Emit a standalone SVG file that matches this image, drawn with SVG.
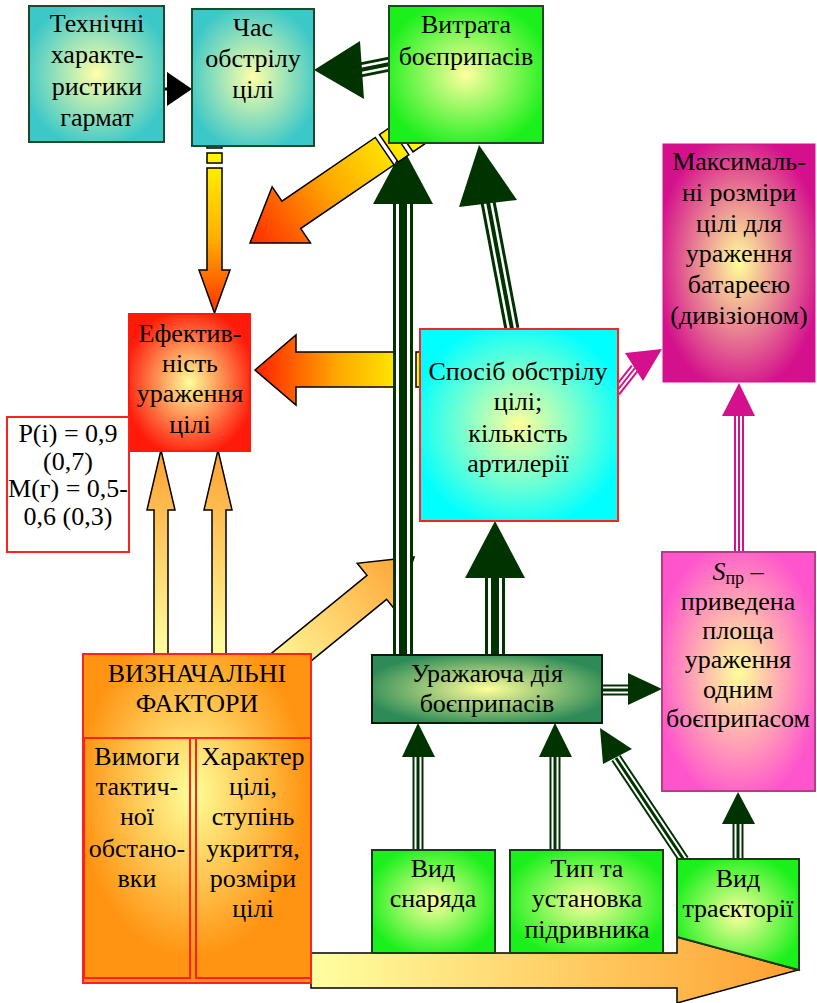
<svg xmlns="http://www.w3.org/2000/svg" width="817" height="1003" viewBox="0 0 817 1003">
<style>
.t{font-family:"Liberation Serif","Times New Roman",serif;font-size:26px;fill:#000;text-anchor:middle}
.gA{fill:none;stroke:#003300;stroke-width:20}.wA{fill:none;stroke:#fff;stroke-width:14}.cA{fill:none;stroke:#003300;stroke-width:8}
.gB{fill:none;stroke:#003300;stroke-width:15}.wB{fill:none;stroke:#fff;stroke-width:9}.cB{fill:none;stroke:#003300;stroke-width:4}
.gC{fill:none;stroke:#003300;stroke-width:11}.wC{fill:none;stroke:#fff;stroke-width:7}.cC{fill:none;stroke:#003300;stroke-width:3}
.mO{fill:none;stroke:#d4108c;stroke-width:10}.mW{fill:none;stroke:#fff;stroke-width:6}.mC{fill:none;stroke:#d4108c;stroke-width:2}
.hd{fill:#003300}.hm{fill:#d4108c}
.fat{stroke:#000;stroke-width:1.5;stroke-linejoin:miter}
</style>
<defs>
<radialGradient id="gTeal" cx="0.5" cy="0.5" r="0.55"><stop offset="0" stop-color="#ffffa8"/><stop offset="1" stop-color="#3cc8c8"/></radialGradient>
<radialGradient id="gGreen" cx="0.5" cy="0.5" r="0.55"><stop offset="0" stop-color="#ffffa0"/><stop offset="1" stop-color="#1cf01c"/></radialGradient>
<radialGradient id="gMag" cx="0.5" cy="0.5" r="0.55"><stop offset="0" stop-color="#ffff9a"/><stop offset="1" stop-color="#d4108c"/></radialGradient>
<radialGradient id="gRed" cx="0.5" cy="0.5" r="0.55"><stop offset="0" stop-color="#ffff9a"/><stop offset="1" stop-color="#ff1a0a"/></radialGradient>
<radialGradient id="gCyan" cx="0.5" cy="0.5" r="0.55"><stop offset="0" stop-color="#ffff99"/><stop offset="1" stop-color="#00ffff"/></radialGradient>
<radialGradient id="gPink" cx="0.5" cy="0.5" r="0.55"><stop offset="0" stop-color="#ffff99"/><stop offset="1" stop-color="#ff55cc"/></radialGradient>
<radialGradient id="gSea" cx="0.5" cy="0.5" r="0.55"><stop offset="0" stop-color="#ffff99"/><stop offset="1" stop-color="#2e8b57"/></radialGradient>
<radialGradient id="gOr" cx="0.48" cy="0.42" r="0.5"><stop offset="0" stop-color="#ffff9a"/><stop offset="1" stop-color="#ff9412"/></radialGradient>
<linearGradient id="aDown" gradientUnits="userSpaceOnUse" x1="0" y1="146" x2="0" y2="313"><stop offset="0" stop-color="#ffff00"/><stop offset="0.55" stop-color="#ffb000"/><stop offset="1" stop-color="#ff3000"/></linearGradient>
<linearGradient id="aLeft" gradientUnits="userSpaceOnUse" x1="420" y1="0" x2="255" y2="0"><stop offset="0" stop-color="#ffff00"/><stop offset="0.5" stop-color="#ffa800"/><stop offset="1" stop-color="#ff2000"/></linearGradient>
<linearGradient id="aDiag" gradientUnits="userSpaceOnUse" x1="-200" y1="0" x2="0" y2="0"><stop offset="0" stop-color="#ffff00"/><stop offset="0.5" stop-color="#ffaa00"/><stop offset="1" stop-color="#ff2a00"/></linearGradient>
<linearGradient id="aUp" gradientUnits="userSpaceOnUse" x1="0" y1="654" x2="0" y2="450"><stop offset="0" stop-color="#ffffa0"/><stop offset="1" stop-color="#ffa030"/></linearGradient>
<linearGradient id="aUR" gradientUnits="userSpaceOnUse" x1="-190" y1="0" x2="0" y2="0"><stop offset="0" stop-color="#ffffa0"/><stop offset="1" stop-color="#ffa030"/></linearGradient>
<linearGradient id="aRight" gradientUnits="userSpaceOnUse" x1="311" y1="0" x2="798" y2="0"><stop offset="0" stop-color="#ffffa0"/><stop offset="1" stop-color="#ffa030"/></linearGradient>
</defs>

<g id="connectors">
  <!-- Час -> Ефективність (fat, down) -->
  <g id="c-chas-efekt" fill="url(#aDown)" class="fat">
    <rect x="207" y="145" width="15" height="3"/>
    <rect x="207" y="153" width="15" height="10"/>
    <polygon points="207,168 222,168 222,270 230,270 214.5,313 199,270 207,270"/>
  </g>
  <!-- Спосіб -> Ефективність (fat, left) -->
  <g id="c-sposib-efekt" fill="url(#aLeft)" class="fat">
    <polygon points="255,370 296,335 296,352 395,352 395,387 296,387 296,405"/>
    <rect x="401" y="352" width="11" height="35"/>
    <rect x="416" y="352" width="6" height="35"/>
  </g>
  <!-- ВИЗНАЧАЛЬНІ -> Спосіб (fat diagonal) -->
  <g id="c-vyzn-sposib" transform="translate(414,557) rotate(-39.2)">
    <polygon class="fat" fill="url(#aUR)" points="0,0 -48,-31 -48,-15.5 -190,-15.5 -190,15.5 -48,15.5 -48,31"/>
  </g>
  <!-- ВИЗНАЧАЛЬНІ -> Ефективність (two fat up arrows) -->
  <polygon id="c-vyzn-efekt1" class="fat" fill="url(#aUp)" points="154,656 154,510 147,510 161,450 175,510 168,510 168,656"/>
  <polygon id="c-vyzn-efekt2" class="fat" fill="url(#aUp)" points="212,656 212,510 204,510 218,450 232,510 226,510 226,656"/>
  <!-- Уражаюча -> Витрата (main vertical) -->
  <g id="c-urazh-vytrata">
    <path class="gA" d="M403,655 V200"/><path class="wA" d="M403,655 V200"/><path class="cA" d="M403,655 V200"/>
    <polygon class="hd" points="403,148 433,204 373,204"/>
  </g>
  <!-- Витрата -> Ефективність (fat diagonal) -->
  <g id="c-vytrata-efekt" class="fat" fill="url(#aDiag)" transform="translate(250,243) rotate(145.7)">
    <polygon points="0,0 -50,-34 -50,-16.6 -163,-16.6 -163,16.6 -50,16.6 -50,34"/>
    <rect x="-181" y="-16.6" width="13" height="33.2"/>
    <rect x="-200" y="-16.6" width="14" height="33.2"/>
  </g>
  <!-- Технічні -> Час -->
  <g id="c-tech-chas">
    <path d="M164,89 H170" stroke="#000" stroke-width="3"/>
    <polygon points="167,72 192,89 167,106" fill="#000"/>
  </g>
  <!-- Витрата -> Час -->
  <g id="c-vytrata-chas">
    <path class="gB" d="M390,64 L360,70"/><path class="wB" d="M390,64 L360,70"/><path class="cB" d="M390,64 L360,70"/>
    <polygon class="hd" points="314,70 360,41 364,99"/>
  </g>
  <!-- Спосіб -> Витрата -->
  <g id="c-sposib-vytrata">
    <path class="gB" d="M512,329 L488,202"/><path class="wB" d="M512,329 L488,202"/><path class="cB" d="M512,329 L488,202"/>
    <polygon class="hd" points="479,145 517,200 459,207"/>
  </g>
  <!-- Уражаюча -> Спосіб -->
  <g id="c-urazh-sposib">
    <path class="gA" d="M495,655 V576"/><path class="wA" d="M495,655 V576"/><path class="cA" d="M495,655 V576"/>
    <polygon class="hd" points="495,521 525,578 465,578"/>
  </g>
  <!-- Спосіб -> Максимальні -->
  <g id="c-sposib-maks">
    <path class="mO" d="M616,392 L635,368"/><path class="mW" d="M616,392 L635,368"/><path class="mC" d="M616,392 L635,368"/>
    <polygon class="hm" points="662,349 643,381 625,353"/>
  </g>
  <!-- Sпр -> Максимальні -->
  <g id="c-spr-maks">
    <path class="mO" d="M739,552 V414"/><path class="mW" d="M739,552 V414"/><path class="mC" d="M739,552 V414"/>
    <polygon class="hm" points="739,383 755,416 722,416"/>
  </g>
  <!-- Уражаюча -> Sпр -->
  <g id="c-urazh-spr">
    <path class="gC" d="M602,690 H630"/><path class="wC" d="M602,690 H630"/><path class="cC" d="M602,690 H630"/>
    <polygon class="hd" points="662,689 628,705 628,673"/>
  </g>
  <!-- Вид снаряда -> Уражаюча -->
  <g id="c-snar-urazh">
    <path class="gC" d="M418,850 V755"/><path class="wC" d="M418,850 V755"/><path class="cC" d="M418,850 V755"/>
    <polygon class="hd" points="418,723 435,757 402,757"/>
  </g>
  <!-- Тип -> Уражаюча -->
  <g id="c-typ-urazh">
    <path class="gC" d="M555,850 V755"/><path class="wC" d="M555,850 V755"/><path class="cC" d="M555,850 V755"/>
    <polygon class="hd" points="555,723 572,757 539,757"/>
  </g>
  <!-- Вид траєкторії -> Уражаюча -->
  <g id="c-traek-urazh">
    <path class="gC" d="M684,860 L616,758"/><path class="wC" d="M684,860 L616,758"/><path class="cC" d="M684,860 L616,758"/>
    <polygon class="hd" points="600,728 632,749 603,764"/>
  </g>
  <!-- Вид траєкторії -> Sпр -->
  <g id="c-traek-spr">
    <path class="gC" d="M738,859 V822"/><path class="wC" d="M738,859 V822"/><path class="cC" d="M738,859 V822"/>
    <polygon class="hd" points="738,792 755,824 722,824"/>
  </g>
  <!-- ВИЗНАЧАЛЬНІ bottom big arrow -->
  <polygon id="c-vyzn-right" class="fat" fill="url(#aRight)" points="311,953 677,953 677,937 798,970 677,1003 677,988 311,988"/>
</g>

<g id="n-tech">
  <rect x="29" y="6" width="135" height="136" fill="url(#gTeal)" stroke="#1a4a2a" stroke-width="2"/>
  <text class="t" x="97" y="32">Технічні</text>
  <text class="t" x="97" y="63">характе-</text>
  <text class="t" x="97" y="95">ристики</text>
  <text class="t" x="97" y="126">гармат</text>
</g>
<g id="n-chas">
  <rect x="192" y="9" width="122" height="137" fill="url(#gTeal)" stroke="#1a4a2a" stroke-width="2"/>
  <text class="t" x="253" y="36">Час</text>
  <text class="t" x="253" y="67">обстрілу</text>
  <text class="t" x="253" y="98">цілі</text>
</g>
<g id="n-vytrata">
  <rect x="389" y="6" width="154" height="137" fill="url(#gGreen)" stroke="#1a4a1a" stroke-width="2"/>
  <text class="t" x="466" y="33">Витрата</text>
  <text class="t" x="466" y="65">боєприпасів</text>
</g>
<g id="n-maks">
  <rect x="663" y="144" width="152" height="238" fill="url(#gMag)" stroke="#d4108c" stroke-width="1"/>
  <text class="t" x="739" y="170">Максималь-</text>
  <text class="t" x="739" y="201">ні розміри</text>
  <text class="t" x="739" y="232">цілі для</text>
  <text class="t" x="739" y="262">ураження</text>
  <text class="t" x="739" y="293">батареєю</text>
  <text class="t" x="739" y="324">(дивізіоном)</text>
</g>
<g id="n-efekt">
  <rect x="129" y="314" width="121" height="137" fill="url(#gRed)" stroke="#ff1a0a" stroke-width="2"/>
  <text class="t" x="190" y="342">Ефектив-</text>
  <text class="t" x="190" y="372">ність</text>
  <text class="t" x="190" y="402">ураження</text>
  <text class="t" x="190" y="433">цілі</text>
</g>
<g id="n-prob">
  <rect x="7" y="417" width="122" height="135" fill="#fff" stroke="#ff2020" stroke-width="2"/>
  <text class="t" x="68" y="442" font-size="25">P(i) = 0,9</text>
  <text class="t" x="68" y="470" font-size="25">(0,7)</text>
  <text class="t" x="68" y="497" font-size="25">М(г) = 0,5-</text>
  <text class="t" x="68" y="525" font-size="25">0,6 (0,3)</text>
</g>
<g id="n-sposib">
  <rect x="420" y="329" width="198" height="192" fill="url(#gCyan)" stroke="#ff2020" stroke-width="2"/>
  <text class="t" x="518" y="380">Спосіб обстрілу</text>
  <text class="t" x="518" y="410">цілі;</text>
  <text class="t" x="518" y="442">кількість</text>
  <text class="t" x="518" y="472">артилерії</text>
</g>
<g id="n-spr">
  <rect x="662" y="552" width="153" height="239" fill="url(#gPink)" stroke="#b04080" stroke-width="2"/>
  <text class="t" x="738" y="580"><tspan font-style="italic">S</tspan><tspan font-size="18" dy="4">пр</tspan><tspan dy="-4"> –</tspan></text>
  <text class="t" x="738" y="610">приведена</text>
  <text class="t" x="738" y="639">площа</text>
  <text class="t" x="738" y="668">ураження</text>
  <text class="t" x="738" y="698">одним</text>
  <text class="t" x="738" y="727">боєприпасом</text>
</g>
<g id="n-urazh">
  <rect x="372" y="655" width="230" height="68" fill="url(#gSea)" stroke="#0a1a0a" stroke-width="2"/>
  <text class="t" x="487" y="682">Уражаюча дія</text>
  <text class="t" x="487" y="712">боєприпасів</text>
</g>
<g id="n-vyzn">
  <rect x="83" y="654" width="228" height="329" fill="url(#gOr)" stroke="#ff2020" stroke-width="2"/>
  <line x1="83" y1="738" x2="311" y2="738" stroke="#ff2020" stroke-width="2"/>
  <rect x="84" y="738" width="106" height="240" fill="none" stroke="#ff2020" stroke-width="2"/>
  <rect x="196" y="738" width="115" height="240" fill="none" stroke="#ff2020" stroke-width="2"/>
  <text class="t" x="197" y="682">ВИЗНАЧАЛЬНІ</text>
  <text class="t" x="197" y="712">ФАКТОРИ</text>
  <text class="t" x="137" y="765">Вимоги</text>
  <text class="t" x="137" y="795">тактич-</text>
  <text class="t" x="137" y="825">ної</text>
  <text class="t" x="137" y="857">обстано-</text>
  <text class="t" x="137" y="887">вки</text>
  <text class="t" x="253" y="765">Характер</text>
  <text class="t" x="253" y="795">цілі,</text>
  <text class="t" x="253" y="825">ступінь</text>
  <text class="t" x="253" y="857">укриття,</text>
  <text class="t" x="253" y="887">розміри</text>
  <text class="t" x="253" y="917">цілі</text>
</g>
<g id="n-snar">
  <rect x="372" y="850" width="123" height="103" fill="url(#gGreen)" stroke="#1a3a1a" stroke-width="2"/>
  <text class="t" x="433" y="877">Вид</text>
  <text class="t" x="433" y="907">снаряда</text>
</g>
<g id="n-typ">
  <rect x="510" y="850" width="153" height="103" fill="url(#gGreen)" stroke="#1a3a1a" stroke-width="2"/>
  <text class="t" x="587" y="877">Тип та</text>
  <text class="t" x="587" y="907">установка</text>
  <text class="t" x="587" y="938">підривника</text>
</g>
<g id="n-traek">
  <polygon points="677,859 799,859 799,970 677,937" fill="url(#gGreen)" stroke="#1a3a1a" stroke-width="2"/>
  <text class="t" x="738" y="887">Вид</text>
  <text class="t" x="738" y="917">траєкторії</text>
</g>
</svg>
